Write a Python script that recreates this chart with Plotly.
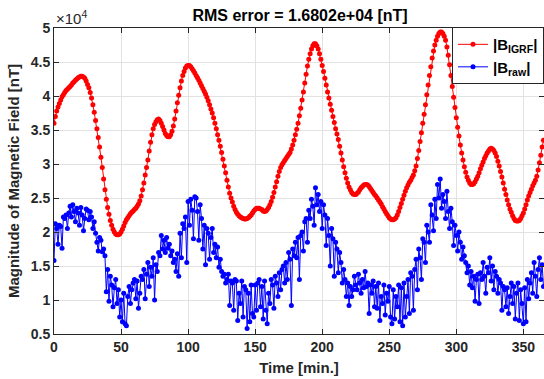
import plotly.graph_objects as go

# sampling grid, minutes
time_min = list(range(0, 366))

# |B_IGRF| in units of 1e4 nT
b_igrf = [
    3.60, 3.70, 3.78, 3.84, 3.89, 3.94, 3.99, 4.02, 4.05, 4.08,
    4.10, 4.12, 4.14, 4.16, 4.19, 4.21, 4.23, 4.25, 4.27, 4.28,
    4.29, 4.29, 4.28, 4.26, 4.22, 4.17, 4.12, 4.05, 3.97, 3.87,
    3.76, 3.64, 3.52, 3.39, 3.25, 3.10, 2.95, 2.78, 2.62, 2.48,
    2.36, 2.26, 2.17, 2.10, 2.04, 2.00, 1.97, 1.96, 1.96, 1.97,
    2.00, 2.04, 2.09, 2.14, 2.18, 2.21, 2.24, 2.27, 2.29, 2.31,
    2.33, 2.35, 2.38, 2.41, 2.46, 2.53, 2.62, 2.72, 2.84, 2.95,
    3.06, 3.19, 3.32, 3.43, 3.52, 3.58, 3.62, 3.65, 3.66, 3.64,
    3.60, 3.55, 3.50, 3.45, 3.42, 3.40, 3.40, 3.43, 3.48, 3.56,
    3.66, 3.78, 3.90, 4.01, 4.12, 4.22, 4.30, 4.36, 4.41, 4.44,
    4.45, 4.45, 4.43, 4.40, 4.37, 4.34, 4.30, 4.27, 4.23, 4.19,
    4.15, 4.11, 4.07, 4.03, 3.98, 3.93, 3.87, 3.81, 3.75, 3.68,
    3.60, 3.52, 3.43, 3.35, 3.26, 3.17, 3.07, 2.97, 2.87, 2.76,
    2.66, 2.57, 2.50, 2.44, 2.38, 2.33, 2.29, 2.26, 2.24, 2.22,
    2.21, 2.20, 2.19, 2.19, 2.20, 2.21, 2.23, 2.25, 2.28, 2.31,
    2.33, 2.35, 2.35, 2.35, 2.34, 2.33, 2.31, 2.30, 2.31, 2.33,
    2.36, 2.40, 2.45, 2.51, 2.58, 2.66, 2.74, 2.82, 2.89, 2.95,
    2.99, 3.02, 3.05, 3.08, 3.11, 3.14, 3.17, 3.22, 3.28, 3.35,
    3.43, 3.51, 3.60, 3.71, 3.82, 3.94, 4.06, 4.19, 4.32, 4.44,
    4.54, 4.62, 4.69, 4.74, 4.77, 4.77, 4.74, 4.69, 4.62, 4.54,
    4.45, 4.36, 4.26, 4.16, 4.06, 3.97, 3.88, 3.79, 3.70, 3.61,
    3.52, 3.44, 3.36, 3.26, 3.16, 3.06, 2.96, 2.87, 2.79, 2.72,
    2.66, 2.62, 2.58, 2.56, 2.55, 2.55, 2.57, 2.59, 2.62, 2.65,
    2.67, 2.69, 2.70, 2.70, 2.69, 2.67, 2.64, 2.61, 2.58, 2.55,
    2.53, 2.50, 2.47, 2.44, 2.41, 2.37, 2.34, 2.30, 2.27, 2.24,
    2.21, 2.19, 2.18, 2.18, 2.19, 2.21, 2.25, 2.30, 2.36, 2.42,
    2.48, 2.54, 2.60, 2.65, 2.69, 2.73, 2.76, 2.80, 2.84, 2.90,
    2.97, 3.08, 3.20, 3.33, 3.46, 3.60, 3.73, 3.87, 4.02, 4.16,
    4.30, 4.43, 4.56, 4.66, 4.75, 4.82, 4.88, 4.92, 4.94, 4.94,
    4.92, 4.88, 4.82, 4.72, 4.60, 4.46, 4.30, 4.14, 3.98, 3.83,
    3.68, 3.54, 3.41, 3.28, 3.16, 3.06, 2.96, 2.88, 2.81, 2.76,
    2.72, 2.70, 2.70, 2.71, 2.74, 2.78, 2.82, 2.87, 2.93, 2.98,
    3.03, 3.08, 3.12, 3.16, 3.19, 3.22, 3.23, 3.22, 3.20, 3.16,
    3.11, 3.04, 2.97, 2.89, 2.81, 2.72, 2.63, 2.55, 2.47, 2.40,
    2.34, 2.29, 2.24, 2.20, 2.17, 2.16, 2.16, 2.17, 2.20, 2.24,
    2.28, 2.34, 2.40, 2.47, 2.53, 2.58, 2.63, 2.68, 2.72, 2.76,
    2.82, 2.91, 3.02, 3.13, 3.25, 3.35,
]

# |B_raw| in units of 1e4 nT
b_raw = [
    1.58, 2.12, 2.05, 1.82, 2.10, 2.08, 1.76, 2.22, 2.20, 2.25,
    2.05, 2.28, 2.38, 2.22, 2.40, 2.30, 2.15, 2.35, 2.28, 2.10,
    2.36, 2.25, 2.02, 2.20, 2.34, 2.32, 2.18, 2.30, 2.22, 2.05,
    2.15, 1.98, 1.85, 1.72, 1.92, 1.88, 1.71, 1.75, 1.65, 1.12,
    1.45, 0.98, 1.35, 1.22, 0.90, 1.18, 1.30, 0.95, 1.15, 0.75,
    1.00, 0.68, 1.10, 0.65, 0.62, 1.05, 1.20, 0.95, 1.15, 1.25,
    1.30, 1.02, 1.28, 0.88, 1.10, 1.35, 1.30, 1.45, 1.02, 1.38,
    1.55, 1.20, 1.48, 1.35, 1.62, 1.00, 1.52, 1.42, 1.70, 1.65,
    1.95, 1.75, 1.88, 1.70, 1.92, 1.76, 1.82, 1.65, 1.72, 1.55,
    1.60, 1.42, 1.68, 1.35, 1.98, 1.62, 2.12, 2.05, 2.22, 1.55,
    2.45, 2.10, 2.48, 2.32, 1.90, 2.52, 2.50, 2.30, 1.88, 2.40,
    2.20, 1.75, 2.10, 1.52, 2.05, 1.98, 1.60, 1.92, 2.05, 1.70,
    1.82, 1.62, 1.78, 1.48, 1.60, 1.42, 1.35, 1.38, 1.25, 1.30,
    1.38, 0.92, 1.28, 1.25, 0.85, 1.30, 1.28, 0.70, 1.10, 0.95,
    1.28, 0.75, 1.20, 1.15, 0.58, 1.10, 0.68, 1.22, 0.80, 0.75,
    1.22, 0.85, 1.25, 1.30, 0.90, 1.20, 0.72, 1.28, 0.85, 0.65,
    1.10, 0.95, 1.30, 1.22, 0.88, 1.35, 1.25, 1.05, 1.40, 1.15,
    1.45, 1.50, 1.25, 1.55, 1.30, 1.70, 1.60, 0.92, 1.75, 1.65,
    1.85, 1.62, 1.92, 1.30, 1.95, 2.00, 1.72, 2.15, 2.20, 1.85,
    2.32, 2.20, 2.48, 2.38, 2.10, 2.65, 2.40, 2.55, 2.30, 2.45,
    2.05, 2.40, 2.25, 1.80, 2.20, 1.95, 1.50, 2.05, 1.90, 1.35,
    1.85, 1.75, 1.40, 1.70, 1.55, 1.25, 1.45, 1.30, 1.05, 1.25,
    0.92, 1.20, 1.05, 1.15, 1.35, 1.22, 1.15, 1.38, 1.25, 1.10,
    1.30, 1.18, 1.42, 1.20, 1.25, 0.80, 1.22, 1.10, 1.28, 0.90,
    1.20, 0.88, 1.25, 0.70, 1.05, 0.95, 1.22, 0.78, 1.10, 0.98,
    1.20, 0.75, 0.65, 1.15, 0.72, 1.05, 0.90, 1.22, 0.68, 1.18,
    0.62, 1.25, 0.75, 1.05, 1.30, 0.80, 1.40, 1.35, 0.85, 1.45,
    1.60, 1.15, 1.75, 1.62, 1.30, 1.90, 1.85, 1.55, 2.10, 2.00,
    1.85, 2.40, 2.25, 2.02, 2.48, 2.20, 2.70, 2.50, 2.78, 2.35,
    2.55, 2.45, 2.20, 2.60, 2.30, 2.05, 2.35, 2.15, 1.80, 2.10,
    1.95, 1.72, 2.00, 1.85, 1.60, 1.78, 1.65, 1.55, 1.40, 1.50,
    1.22, 1.42, 1.18, 1.35, 0.98, 1.30, 1.38, 0.95, 1.40, 1.30,
    1.55, 1.35, 1.10, 1.48, 1.40, 1.62, 1.28, 1.50, 1.15, 1.42,
    1.35, 1.10, 1.30, 1.25, 0.85, 1.20, 1.15, 0.90, 1.18, 0.80,
    1.05, 1.25, 0.95, 1.20, 0.72, 1.10, 1.25, 0.70, 1.15, 0.95,
    0.65, 1.18, 0.68, 1.30, 1.02, 1.25, 1.40, 1.10, 1.55, 1.35,
    1.05, 1.45, 1.62, 1.30, 1.52, 1.20,
]

x_ticks = [0, 50, 100, 150, 200, 250, 300, 350]
y_ticks = [0.5, 1, 1.5, 2, 2.5, 3, 3.5, 4, 4.5, 5]
y_tick_text = ["0.5", "1", "1.5", "2", "2.5", "3", "3.5", "4", "4.5", "5"]

FONT = "Liberation Sans, Arial, Helvetica, sans-serif"
AX = "#262626"
GRID = "#e2e2e2"

fig = go.Figure()
fig.add_trace(go.Scatter(
    x=time_min, y=b_igrf, mode="lines+markers", name="|B<sub>IGRF</sub>|",
    line=dict(color="#ff0000", width=1), marker=dict(color="#ff0000", size=5),
))
fig.add_trace(go.Scatter(
    x=time_min, y=b_raw, mode="lines+markers", name="|B<sub>raw</sub>|",
    line=dict(color="#0000ff", width=1), marker=dict(color="#0000ff", size=5),
))

fig.update_layout(
    width=544, height=379,
    margin=dict(l=54, r=0, t=28, b=45, autoexpand=False),
    plot_bgcolor="white", paper_bgcolor="white",
    font=dict(family=FONT, color=AX, size=14),
    title=dict(text="RMS error = 1.6802e+04 [nT]", x=300 / 544, xanchor="center",
               y=1 - 15.5 / 379, yanchor="middle",
               font=dict(size=16, weight="bold", color="#000000")),
    legend=dict(x=1.0, y=1.003, xanchor="right", yanchor="top",
                bordercolor=AX, borderwidth=1, bgcolor="white",
                font=dict(size=15, weight="bold", color="#000000"),
                itemwidth=30, tracegroupgap=0),
    annotations=[dict(text="×10<sup>4</sup>", xref="paper", yref="paper",
                      x=0.0, y=1.0, xanchor="left", yanchor="bottom", yshift=-1,
                      showarrow=False, font=dict(size=15, color=AX))],
)

fig.update_xaxes(
    range=[0, 365.4], tickvals=x_ticks, showgrid=True, gridcolor=GRID, gridwidth=1,
    showline=True, linecolor=AX, linewidth=1, mirror="ticks",
    ticks="inside", ticklen=5, tickcolor=AX, zeroline=False,
    tickfont=dict(size=14, weight="bold", color=AX),
    title=dict(text="Time [min.]", font=dict(size=15, weight="bold", color=AX), standoff=8),
)
fig.update_yaxes(
    range=[0.5, 5], tickvals=y_ticks, ticktext=y_tick_text,
    showgrid=True, gridcolor=GRID, gridwidth=1,
    showline=True, linecolor=AX, linewidth=1, mirror="ticks",
    ticks="inside", ticklen=5, tickcolor=AX, zeroline=False,
    tickfont=dict(size=14, weight="bold", color=AX),
    title=dict(text="Magnitude of Magnetic Field [nT]",
               font=dict(size=15, weight="bold", color=AX), standoff=7),
)

fig.write_html("out.html")
